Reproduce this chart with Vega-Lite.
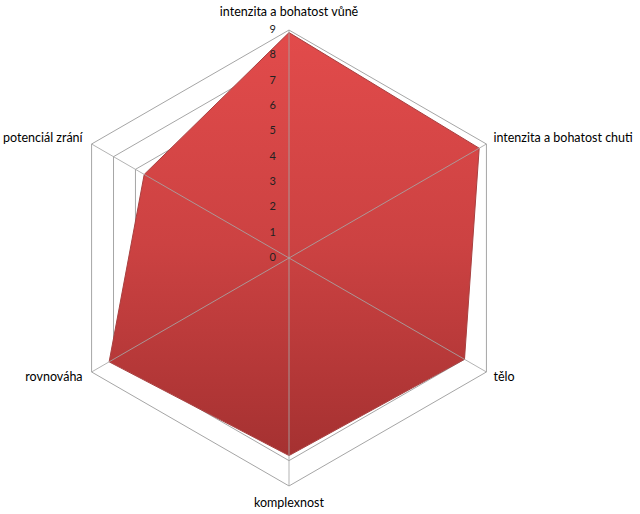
{
  "$schema": "https://vega.github.io/schema/vega-lite/v6.json",
  "width": 640,
  "height": 514,
  "autosize": "none",
  "padding": 0,
  "background": "white",
  "config": {"view": {"stroke": null}, "font": "Lato"},
  "datasets": {
    "scores": [
      {"i": 0, "label": "intenzita a bohatost  vůně", "v": 8.9},
      {"i": 1, "label": "intenzita a bohatost  chuti", "v": 8.67},
      {"i": 2, "label": "tělo", "v": 8.0},
      {"i": 3, "label": "komplexnost", "v": 7.8},
      {"i": 4, "label": "rovnováha", "v": 8.2},
      {"i": 5, "label": "potenciál zrání", "v": 6.6}
    ],
    "rings": [
      {"level": 1, "i": [0, 1, 2, 3, 4, 5]},
      {"level": 2, "i": [0, 1, 2, 3, 4, 5]},
      {"level": 3, "i": [0, 1, 2, 3, 4, 5]},
      {"level": 4, "i": [0, 1, 2, 3, 4, 5]},
      {"level": 5, "i": [0, 1, 2, 3, 4, 5]},
      {"level": 6, "i": [0, 1, 2, 3, 4, 5]},
      {"level": 7, "i": [0, 1, 2, 3, 4, 5]},
      {"level": 8, "i": [0, 1, 2, 3, 4, 5]},
      {"level": 9, "i": [0, 1, 2, 3, 4, 5]}
    ],
    "ticks": [
      {"t": 0}, {"t": 1}, {"t": 2}, {"t": 3}, {"t": 4},
      {"t": 5}, {"t": 6}, {"t": 7}, {"t": 8}, {"t": 9}
    ]
  },
  "layer": [
    {
      "data": {"name": "rings"},
      "transform": [
        {"flatten": ["i"]},
        {"calculate": "PI/2 - datum.i*PI/3", "as": "ang"},
        {"calculate": "datum.level*cos(datum.ang)", "as": "x"},
        {"calculate": "datum.level*sin(datum.ang)", "as": "y"}
      ],
      "mark": {"type": "line", "interpolate": "linear-closed", "stroke": "#a6a6a6", "strokeWidth": 1},
      "encoding": {
        "x": {"field": "x", "type": "quantitative", "scale": {"domain": [-11.41, 13.857], "nice": false, "zero": false}, "axis": null},
        "y": {"field": "y", "type": "quantitative", "scale": {"domain": [-10.107, 10.186], "nice": false, "zero": false}, "axis": null},
        "detail": {"field": "level", "type": "nominal"},
        "order": {"field": "i", "type": "quantitative"}
      }
    },
    {
      "data": {"name": "scores"},
      "transform": [
        {"calculate": "PI/2 - datum.i*PI/3", "as": "ang"},
        {"calculate": "datum.v*cos(datum.ang)", "as": "x"},
        {"calculate": "datum.v*sin(datum.ang)", "as": "y"}
      ],
      "mark": {
        "type": "line",
        "interpolate": "linear-closed",
        "stroke": "#a84040",
        "strokeWidth": 1,
        "fill": {
          "gradient": "linear",
          "x1": 0, "y1": 0, "x2": 0, "y2": 1,
          "stops": [
            {"offset": 0, "color": "#e24b4b"},
            {"offset": 0.5, "color": "#cc4242"},
            {"offset": 1, "color": "#a53131"}
          ]
        }
      },
      "encoding": {
        "x": {"field": "x", "type": "quantitative"},
        "y": {"field": "y", "type": "quantitative"},
        "order": {"field": "i", "type": "quantitative"}
      }
    },
    {
      "data": {"name": "scores"},
      "transform": [
        {"calculate": "PI/2 - datum.i*PI/3", "as": "ang"},
        {"calculate": "0", "as": "z"},
        {"calculate": "9*cos(datum.ang)", "as": "gx"},
        {"calculate": "9*sin(datum.ang)", "as": "gy"}
      ],
      "mark": {"type": "rule", "stroke": "#a6a6a6", "strokeWidth": 1, "opacity": 0.85},
      "encoding": {
        "x": {"field": "z", "type": "quantitative"},
        "y": {"field": "z", "type": "quantitative"},
        "x2": {"field": "gx"},
        "y2": {"field": "gy"}
      }
    },
    {
      "data": {"name": "ticks"},
      "transform": [{"calculate": "0", "as": "z"}],
      "mark": {"type": "text", "align": "right", "baseline": "middle", "dx": -13, "fontSize": 11, "color": "#222222"},
      "encoding": {
        "x": {"field": "z", "type": "quantitative"},
        "y": {"field": "t", "type": "quantitative"},
        "text": {"field": "t", "type": "quantitative"}
      }
    },
    {
      "data": {"name": "scores"},
      "transform": [
        {"calculate": "PI/2 - datum.i*PI/3", "as": "ang"},
        {"calculate": "9*cos(datum.ang)", "as": "gx"},
        {"calculate": "9*sin(datum.ang)", "as": "gy"}
      ],
      "layer": [
        {
          "transform": [{"filter": "datum.i == 0"}],
          "mark": {"type": "text", "align": "center", "baseline": "middle", "dy": -18, "fontSize": 12.5, "color": "#000000"},
          "encoding": {"x": {"field": "gx", "type": "quantitative"}, "y": {"field": "gy", "type": "quantitative"}, "text": {"field": "label", "type": "nominal"}}
        },
        {
          "transform": [{"filter": "datum.i == 3"}],
          "mark": {"type": "text", "align": "center", "baseline": "middle", "dy": 17, "fontSize": 12.5, "color": "#000000"},
          "encoding": {"x": {"field": "gx", "type": "quantitative"}, "y": {"field": "gy", "type": "quantitative"}, "text": {"field": "label", "type": "nominal"}}
        },
        {
          "transform": [{"filter": "datum.i == 1"}],
          "mark": {"type": "text", "align": "left", "baseline": "middle", "dx": 7, "dy": -6, "fontSize": 12.5, "color": "#000000"},
          "encoding": {"x": {"field": "gx", "type": "quantitative"}, "y": {"field": "gy", "type": "quantitative"}, "text": {"field": "label", "type": "nominal"}}
        },
        {
          "transform": [{"filter": "datum.i == 2"}],
          "mark": {"type": "text", "align": "left", "baseline": "middle", "dx": 7, "dy": 5, "fontSize": 12.5, "color": "#000000"},
          "encoding": {"x": {"field": "gx", "type": "quantitative"}, "y": {"field": "gy", "type": "quantitative"}, "text": {"field": "label", "type": "nominal"}}
        },
        {
          "transform": [{"filter": "datum.i == 4"}],
          "mark": {"type": "text", "align": "right", "baseline": "middle", "dx": -9, "dy": 5, "fontSize": 12.5, "color": "#000000"},
          "encoding": {"x": {"field": "gx", "type": "quantitative"}, "y": {"field": "gy", "type": "quantitative"}, "text": {"field": "label", "type": "nominal"}}
        },
        {
          "transform": [{"filter": "datum.i == 5"}],
          "mark": {"type": "text", "align": "right", "baseline": "middle", "dx": -9, "dy": -6, "fontSize": 12.5, "color": "#000000"},
          "encoding": {"x": {"field": "gx", "type": "quantitative"}, "y": {"field": "gy", "type": "quantitative"}, "text": {"field": "label", "type": "nominal"}}
        }
      ]
    }
  ]
}
